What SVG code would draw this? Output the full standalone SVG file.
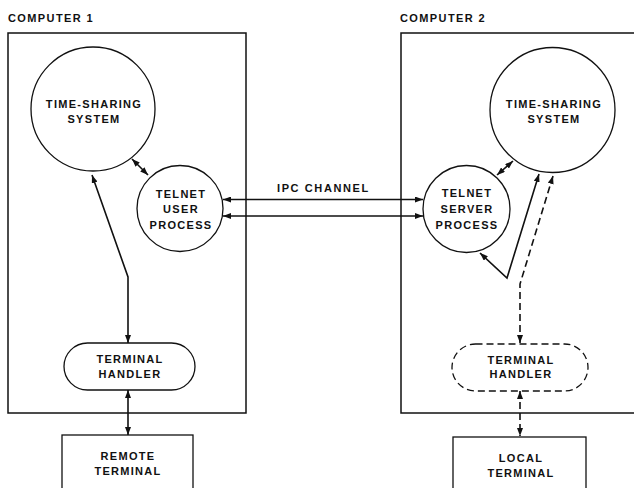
<svg xmlns="http://www.w3.org/2000/svg" width="634" height="488" viewBox="0 0 634 488">
<defs>
<style>
.box{fill:none;stroke:#111;stroke-width:1.5}
.node{fill:#fff;stroke:#111;stroke-width:1.3}
.dash{stroke-dasharray:7 4}
.t{font-family:"Liberation Sans",Arial,sans-serif;font-size:11px;font-weight:bold;fill:#111;letter-spacing:1.3px;text-anchor:middle}
.lbl{font-family:"Liberation Sans",Arial,sans-serif;font-size:11px;font-weight:bold;fill:#111;letter-spacing:1.4px}
.c{fill:none;stroke:#111;stroke-width:1.6;marker-start:url(#ah);marker-end:url(#ah)}
</style>
<marker id="ah" viewBox="0 0 8 6" refX="8" refY="3" markerWidth="8" markerHeight="6" markerUnits="userSpaceOnUse" orient="auto-start-reverse">
<path d="M0,0 L8,3 L0,6 z" fill="#111"/>
</marker>
</defs>
<rect width="634" height="488" fill="#fff"/>

<g id="computer1">
<text class="lbl" x="8" y="22">COMPUTER 1</text>
<rect class="box" x="8" y="33" width="238" height="380"/>
</g>
<g id="computer2">
<text class="lbl" x="400" y="22">COMPUTER 2</text>
<rect class="box" x="401" y="33" width="260" height="380"/>
</g>

<g id="connectors">
<line class="c" x1="132" y1="159" x2="148" y2="175"/>
<line class="c" x1="223" y1="199.5" x2="423" y2="199.5"/>
<line class="c" x1="223" y1="216" x2="423" y2="216"/>
<polyline class="c" points="92,175 128,277 128,343"/>
<line class="c" x1="128" y1="390" x2="128" y2="435"/>
<line class="c" x1="497" y1="175" x2="513" y2="161"/>
<polyline class="c" points="480,253 507,278 539,174"/>
<polyline class="c dash" points="553,176 520,284 520,343"/>
<line class="c dash" x1="520" y1="391" x2="520" y2="436"/>
<text class="lbl" x="277" y="192" style="letter-spacing:1.6px">IPC  CHANNEL</text>
</g>

<g id="tss1">
<circle class="node" cx="93" cy="109" r="62"/>
<text class="t" x="94" y="108">TIME-SHARING</text>
<text class="t" x="94" y="123">SYSTEM</text>
</g>
<g id="telnet-user">
<circle class="node" cx="180" cy="208.5" r="43"/>
<text class="t" x="181" y="198">TELNET</text>
<text class="t" x="181" y="213">USER</text>
<text class="t" x="181" y="229">PROCESS</text>
</g>
<g id="term-handler1">
<rect class="node" x="64" y="343" width="131" height="47" rx="23.5"/>
<text class="t" x="130" y="363">TERMINAL</text>
<text class="t" x="130" y="378">HANDLER</text>
</g>
<g id="remote-terminal">
<rect class="node" x="62" y="435" width="131" height="70"/>
<text class="t" x="128" y="460">REMOTE</text>
<text class="t" x="128" y="475">TERMINAL</text>
</g>

<g id="tss2">
<circle class="node" cx="552.5" cy="110" r="62.5"/>
<text class="t" x="554" y="108">TIME-SHARING</text>
<text class="t" x="554" y="123">SYSTEM</text>
</g>
<g id="telnet-server">
<circle class="node" cx="466.5" cy="209" r="43.5"/>
<text class="t" x="467" y="197">TELNET</text>
<text class="t" x="467" y="213">SERVER</text>
<text class="t" x="467" y="229">PROCESS</text>
</g>
<g id="term-handler2">
<rect class="node dash" x="452" y="344" width="136" height="47" rx="23.5"/>
<text class="t" x="521" y="364">TERMINAL</text>
<text class="t" x="521" y="378">HANDLER</text>
</g>
<g id="local-terminal">
<rect class="node" x="453" y="437" width="133" height="70"/>
<text class="t" x="521" y="462">LOCAL</text>
<text class="t" x="521" y="477">TERMINAL</text>
</g>
</svg>
